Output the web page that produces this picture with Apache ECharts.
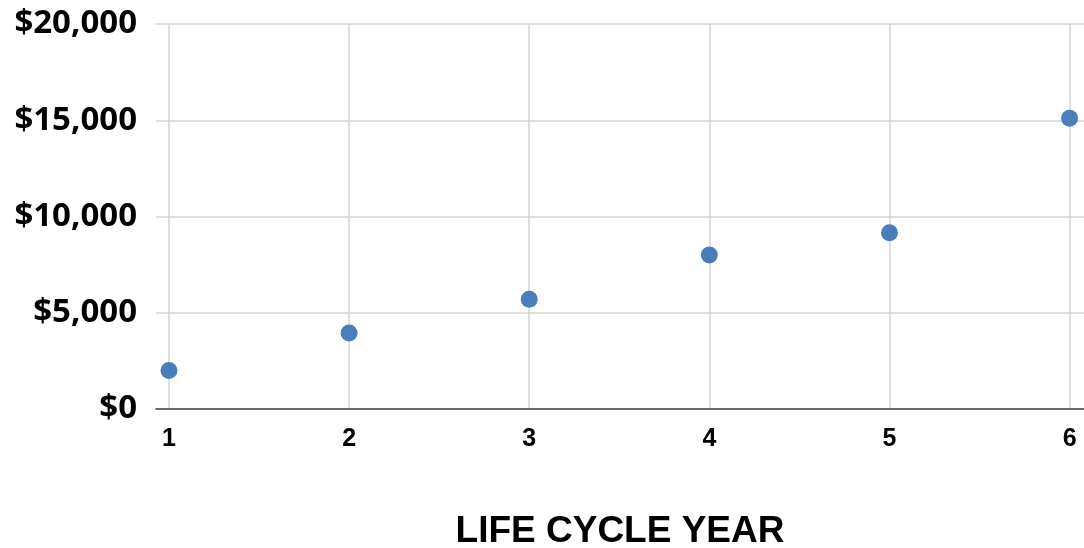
<!DOCTYPE html>
<html>
<head>
<meta charset="utf-8">
<script src="https://cdn.jsdelivr.net/npm/echarts@6/dist/echarts.min.js"></script>
<style>
  html, body { margin: 0; padding: 0; background: #fff; }
  #chart { width: 1084px; height: 548px; }
</style>
</head>
<body>
<div id="chart"></div>
<script>
// life cycle years and cost per year
const years = [1, 2, 3, 4, 5, 6];
const costs = [2000, 3950, 5700, 8000, 9150, 15100];
const yTicks = [0, 5000, 10000, 15000, 20000];

const chart = echarts.init(document.getElementById('chart'));

const option = {
  animation: false,
  grid: { left: 156, right: 0, top: 24, bottom: 139, outerBoundsMode: 'none', containLabel: false },
  xAxis: {
    type: 'value',
    min: 0.928,
    max: 6.08,
    name: 'LIFE CYCLE YEAR',
    nameLocation: 'middle',
    nameGap: 104,
    nameTextStyle: { fontFamily: 'Liberation Sans', fontWeight: 'bold', fontSize: 37, color: '#000' },
    axisLine: { show: true, lineStyle: { color: '#404040', width: 1.5 } },
    axisTick: { show: false, customValues: years },
    axisLabel: {
      customValues: years,
      margin: 18,
      fontFamily: 'Liberation Sans',
      fontWeight: 'bold',
      fontSize: 25,
      color: '#000',
    },
    splitLine: { show: true, lineStyle: { color: '#d4d4d4', width: 1.5 } },
  },
  yAxis: {
    type: 'value',
    min: yTicks[0],
    max: yTicks[yTicks.length - 1],
    interval: 5000,
    axisLine: { show: false },
    axisTick: { show: false },
    axisLabel: {
      margin: 19,
      fontFamily: 'Open Sans',
      fontWeight: 'bold',
      fontSize: 33,
      color: '#000',
      formatter: (v) => '$' + v.toLocaleString('en-US'),
    },
    splitLine: { show: true, lineStyle: { color: '#d4d4d4', width: 1.5 } },
  },
  series: [
    {
      type: 'scatter',
      data: years.map((y, i) => [y, costs[i]]),
      symbol: 'circle',
      symbolSize: 17,
      itemStyle: { color: '#4a7ebb', opacity: 1 },
    },
  ],
};

chart.setOption(option);
</script>
</body>
</html>
